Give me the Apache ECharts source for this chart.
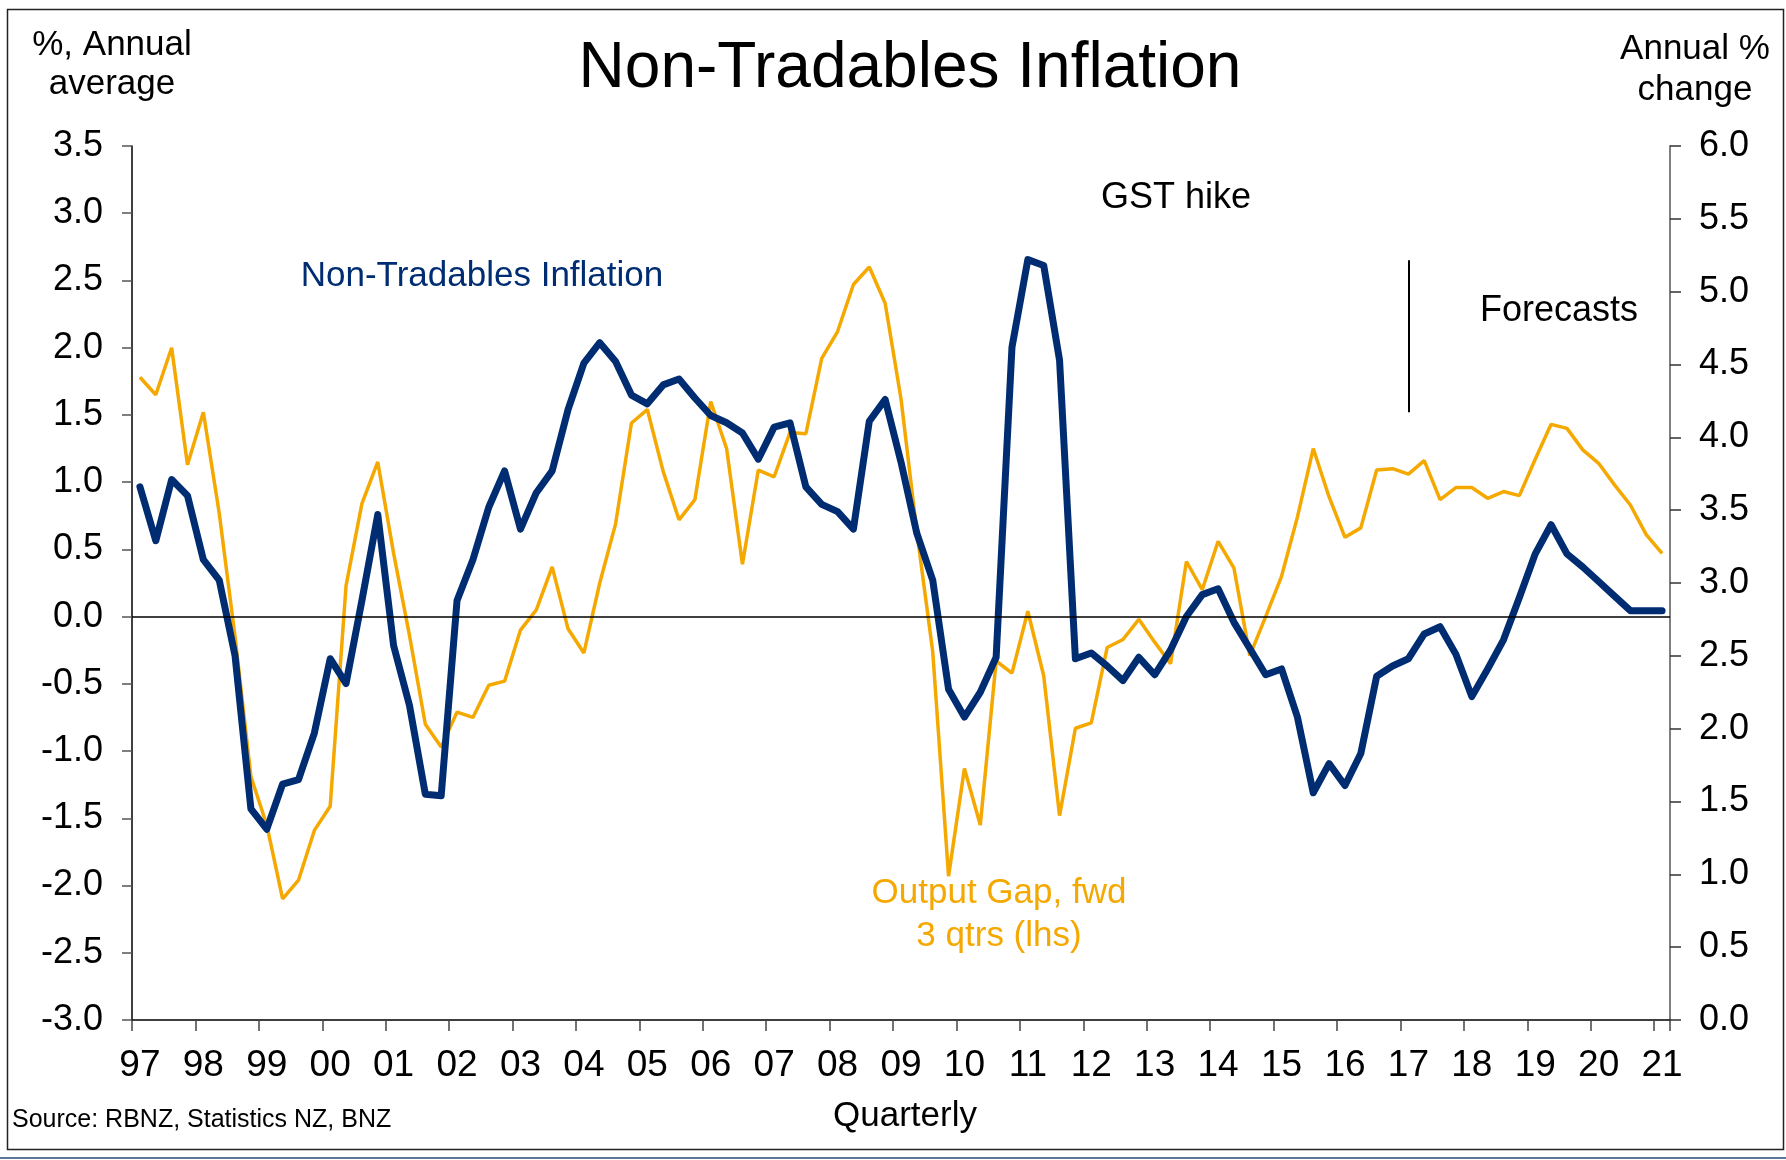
<!DOCTYPE html>
<html>
<head>
<meta charset="utf-8">
<script src="https://cdn.jsdelivr.net/npm/echarts@6/dist/echarts.min.js"></script>
<style>
html,body{margin:0;padding:0;background:#fff;}
#chart{width:1786px;height:1160px;}
</style>
</head>
<body>
<div id="chart"></div>
<script>
// ---- data ----
const years = ['97','98','99','00','01','02','03','04','05','06','07','08','09','10','11','12','13','14','15','16','17','18','19','20','21'];
const quarters = ['Q1','Q2','Q3','Q4'];
const lastCategory = '21Q1';
const forecastStart = '17Q1';

// Output gap, forward 3 quarters (lhs, %)
const outputGap = [
  1.78, 1.65, 2.00, 1.13, 1.52, 0.77, -0.15, -1.19, -1.55, -2.10, -1.96, -1.59,
  -1.41, 0.23, 0.84, 1.15, 0.47, -0.14, -0.80, -0.97, -0.71, -0.75, -0.51, -0.48,
  -0.10, 0.05, 0.37, -0.09, -0.27, 0.25, 0.69, 1.44, 1.54, 1.08, 0.72, 0.87,
  1.60, 1.25, 0.39, 1.09, 1.04, 1.37, 1.36, 1.92, 2.12, 2.47, 2.60, 2.33,
  1.62, 0.63, -0.26, -1.93, -1.13, -1.55, -0.33, -0.42, 0.04, -0.44, -1.48, -0.83,
  -0.79, -0.23, -0.17, -0.02, -0.19, -0.35, 0.41, 0.20, 0.56, 0.36, -0.29, 0.00,
  0.30, 0.74, 1.25, 0.89, 0.59, 0.66, 1.09, 1.10, 1.06, 1.16, 0.87, 0.96,
  0.96, 0.88, 0.93, 0.90, 1.17, 1.43, 1.40, 1.24, 1.14, 0.98, 0.83, 0.61,
  0.47
];

// Non-tradables inflation (rhs, annual % change)
const nonTradables = [
  3.66, 3.29, 3.71, 3.60, 3.16, 3.02, 2.50, 1.45, 1.31, 1.62, 1.65, 1.97,
  2.48, 2.31, 2.88, 3.47, 2.57, 2.16, 1.55, 1.54, 2.88, 3.16, 3.52, 3.77,
  3.37, 3.62, 3.77, 4.19, 4.51, 4.65, 4.52, 4.29, 4.23, 4.36, 4.40, 4.27,
  4.15, 4.10, 4.03, 3.85, 4.07, 4.10, 3.66, 3.54, 3.49, 3.37, 4.11, 4.26,
  3.83, 3.34, 3.02, 2.27, 2.08, 2.25, 2.49, 4.62, 5.22, 5.18, 4.53, 2.48,
  2.52, 2.43, 2.33, 2.49, 2.37, 2.54, 2.77, 2.92, 2.96, 2.73, 2.55, 2.37,
  2.41, 2.08, 1.56, 1.76, 1.61, 1.83, 2.36, 2.43, 2.48, 2.65, 2.70, 2.51,
  2.22, 2.41, 2.61, 2.90, 3.20, 3.40, 3.20, 3.11, 3.01, 2.91, 2.81, 2.81,
  2.81
];

const leftTicks = {min: -3.0, max: 3.5, step: 0.5};
const rightTicks = {min: 0.0, max: 6.0, step: 0.5};
const forecastDivider = {from: 1.52, to: 2.65};   // in lhs units

// ---- build ----
const allCats = years.flatMap(y => quarters.map(q => y + q));
const categories = allCats.slice(0, allCats.indexOf(lastCategory) + 1);

const FONT = "'Liberation Sans', Arial, Helvetica, sans-serif";
const NARROW = "'Liberation Sans Narrow', 'Arial Narrow', 'Liberation Sans', Arial, sans-serif";
const NAVY = '#002D72';
const ORANGE = '#F5A800';

function txt(text, x, y, size, color, align, extra) {
  return {
    type: 'text', x: x, y: y, silent: true,
    style: Object.assign({
      text: text, fontSize: size, fontFamily: FONT, fill: color || '#000',
      align: align || 'center', verticalAlign: 'middle',
      textAlign: align || 'center', textVerticalAlign: 'middle'
    }, extra || {})
  };
}

const chart = echarts.init(document.getElementById('chart'), null, {renderer: 'canvas'});
chart.setOption({
  animation: false,
  backgroundColor: '#fff',
  grid: {left: 132, right: 116, top: 146, bottom: 140, containLabel: false},
  xAxis: {
    type: 'category',
    data: categories,
    boundaryGap: true,
    axisLine: {show: true, onZero: false, lineStyle: {color: '#000', width: 1.5}},
    axisTick: {show: true, interval: 3, length: 11, inside: false, lineStyle: {color: '#444', width: 1.5}},
    axisLabel: {
      interval: 3, margin: 27, color: '#000', fontSize: 37, fontFamily: NARROW,
      formatter: v => v.slice(0, 2)
    },
    splitLine: {show: false}
  },
  yAxis: [
    {
      type: 'value', position: 'left',
      min: leftTicks.min, max: leftTicks.max, interval: leftTicks.step,
      axisLine: {show: true, onZero: false, lineStyle: {color: '#000', width: 1.5}},
      axisTick: {show: true, length: 10, lineStyle: {color: '#555', width: 1.5}},
      axisLabel: {margin: 29, color: '#000', fontSize: 36, fontFamily: NARROW, formatter: v => v.toFixed(1)},
      splitLine: {show: false}
    },
    {
      type: 'value', position: 'right',
      min: rightTicks.min, max: rightTicks.max, interval: rightTicks.step,
      axisLine: {show: true, onZero: false, lineStyle: {color: '#808080', width: 2}},
      axisTick: {show: true, length: 11, lineStyle: {color: '#333', width: 1.5}},
      axisLabel: {margin: 29, color: '#000', fontSize: 36, fontFamily: NARROW, formatter: v => v.toFixed(1)},
      splitLine: {show: false}
    }
  ],
  series: [
    {
      name: 'Output Gap, fwd 3 qtrs (lhs)',
      type: 'line', yAxisIndex: 0, data: outputGap,
      symbol: 'none', smooth: false,
      lineStyle: {color: ORANGE, width: 3.5},
      itemStyle: {color: ORANGE},
      z: 2,
      markLine: {
        silent: true, symbol: 'none', animation: false,
        label: {show: false},
        data: [
          {yAxis: 0, lineStyle: {color: '#000', width: 1.5, type: 'solid'}},
          [
            {coord: [forecastStart, forecastDivider.from], lineStyle: {color: '#000', width: 2, type: 'solid'}},
            {coord: [forecastStart, forecastDivider.to]}
          ]
        ]
      }
    },
    {
      name: 'Non-Tradables Inflation',
      type: 'line', yAxisIndex: 1, data: nonTradables,
      symbol: 'none', smooth: false,
      lineStyle: {color: NAVY, width: 7, join: 'round', cap: 'round'},
      itemStyle: {color: NAVY},
      z: 3
    }
  ],
  graphic: [
    {type: 'rect', silent: true, shape: {x: 7.5, y: 9.5, width: 1776, height: 1140},
     style: {fill: 'none', stroke: '#222', lineWidth: 1.5}},
    {type: 'line', silent: true, shape: {x1: 0, y1: 1158, x2: 1786, y2: 1158},
     style: {stroke: '#5B7A99', lineWidth: 2}},
    txt('Non-Tradables Inflation', 910, 69, 64, '#000'),
    txt('%, Annual\naverage', 112, 65, 35, '#000', 'center', {lineHeight: 39}),
    txt('Annual %\nchange', 1695, 70, 35, '#000', 'center', {lineHeight: 41}),
    txt('Non-Tradables Inflation', 482, 276, 35, NAVY),
    txt('GST hike', 1176, 198.5, 36, '#000'),
    txt('Forecasts', 1559, 311, 36, '#000'),
    txt('Output Gap, fwd\n3 qtrs (lhs)', 999, 914.5, 35, ORANGE, 'center', {lineHeight: 43}),
    txt('Source: RBNZ, Statistics NZ, BNZ', 12, 1120.5, 25, '#000', 'left'),
    txt('Quarterly', 905, 1116.5, 35, '#000')
  ]
});
</script>
</body>
</html>
